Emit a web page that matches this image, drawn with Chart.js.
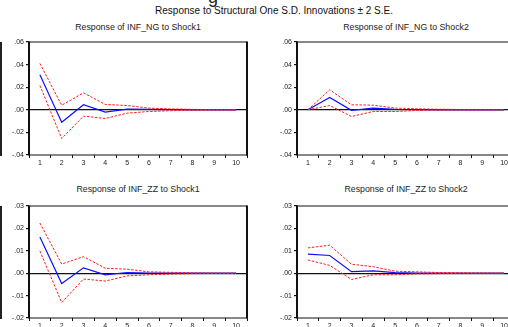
<!DOCTYPE html>
<html>
<head>
<meta charset="utf-8">
<script src="https://cdn.jsdelivr.net/npm/chart.js@4.4.0/dist/chart.umd.min.js"></script>
<style>
  body { margin:0; width:508px; height:327px; overflow:hidden; background:#fff; position:relative; font-family:"Liberation Sans", Arial, sans-serif; }
  .box { position:absolute; }
  .cap { position:absolute; width:218px; text-align:center; font-size:8.8px; color:#222; white-space:nowrap; }
  #mainTitle { position:absolute; left:0; width:548px; top:5px; text-align:center; font-size:10px; color:#111; white-space:nowrap; }
  #cutG { position:absolute; left:208px; top:-13px; font-size:18px; color:#222; }
  .edge { position:absolute; left:0; width:1.5px; background:#222; }
</style>
</head>
<body>
<div id="cutG">g</div>
<div id="mainTitle">Response to Structural One S.D. Innovations ± 2 S.E.</div>
<div class="edge" style="top:42px;height:114px"></div>
<div class="edge" style="top:206px;height:113px"></div>

<div class="cap" style="left:29px;top:22px">Response of INF_NG to Shock1</div>
<div class="cap" style="left:297px;top:22px">Response of INF_NG to Shock2</div>
<div class="cap" style="left:29px;top:184px">Response of INF_ZZ to Shock1</div>
<div class="cap" style="left:297px;top:184px">Response of INF_ZZ to Shock2</div>

<div class="box" style="left:0px;top:35px"><canvas id="c1" width="250" height="135"></canvas></div>
<div class="box" style="left:268px;top:35px"><canvas id="c2" width="250" height="135"></canvas></div>
<div class="box" style="left:0px;top:199px"><canvas id="c3" width="250" height="134"></canvas></div>
<div class="box" style="left:268px;top:199px"><canvas id="c4" width="250" height="134"></canvas></div>

<script>
// periods on the x axis
const periods = ['1','2','3','4','5','6','7','8','9','10'];

// y tick labels
const ticksNG = [-0.04, -0.02, 0.00, 0.02, 0.04, 0.06];
const ticksZZ = [-0.02, -0.01, 0.00, 0.01, 0.02, 0.03];

// INF_NG to Shock1
const ngS1 =    [0.0310, -0.0110, 0.0045, -0.0020, 0.0006, 0.0003, 0.0001, 0.0000, 0.0000, 0.0000];
const ngS1Hi =  [0.0410, 0.0040, 0.0150, 0.0047, 0.0038, 0.0015, 0.0008, 0.0004, 0.0002, 0.0001];
const ngS1Lo =  [0.0215, -0.0254, -0.0056, -0.0077, -0.0030, -0.0015, -0.0008, -0.0004, -0.0002, -0.0001];

// INF_NG to Shock2
const ngS2 =    [0.0000, 0.0110, -0.0005, 0.0015, 0.0003, 0.0001, 0.0000, 0.0000, 0.0000, 0.0000];
const ngS2Hi =  [0.0000, 0.0177, 0.0044, 0.0041, 0.0015, 0.0009, 0.0005, 0.0003, 0.0001, 0.0001];
const ngS2Lo =  [0.0000, 0.0038, -0.0059, -0.0015, -0.0015, -0.0006, -0.0003, -0.0002, -0.0001, -0.0001];

// INF_ZZ to Shock1
const zzS1 =    [0.0162, -0.0046, 0.0024, -0.0007, 0.0003, 0.0001, 0.0000, 0.0000, 0.0000, 0.0000];
const zzS1Hi =  [0.0224, 0.0041, 0.0074, 0.0022, 0.0018, 0.0006, 0.0004, 0.0002, 0.0001, 0.0000];
const zzS1Lo =  [0.0099, -0.0131, -0.0026, -0.0035, -0.0012, -0.0007, -0.0004, -0.0002, -0.0001, 0.0000];

// INF_ZZ to Shock2
const zzS2 =    [0.0085, 0.0079, 0.0007, 0.0010, 0.0003, 0.0001, 0.0000, 0.0000, 0.0000, 0.0000];
const zzS2Hi =  [0.0113, 0.0125, 0.0040, 0.0029, 0.0009, 0.0006, 0.0003, 0.0002, 0.0001, 0.0000];
const zzS2Lo =  [0.0059, 0.0035, -0.0028, -0.0007, -0.0007, -0.0003, -0.0002, -0.0001, -0.0001, 0.0000];

const fontFam = '"Liberation Sans", Arial, sans-serif';

function fmtTick(v) {
  if (Math.abs(v) < 1e-9) return '.00';
  let s = Math.abs(v).toFixed(2).replace(/^0/, '');
  return (v < 0 ? '-' : '') + s;
}

// frame round the plot area, sides a bit heavier than top/bottom
const framePlugin = {
  id: 'frame',
  afterDraw(chart) {
    const a = chart.chartArea, ctx = chart.ctx;
    ctx.save();
    ctx.strokeStyle = '#111';
    ctx.lineWidth = 1.2;
    ctx.beginPath();
    ctx.moveTo(a.left, a.top); ctx.lineTo(a.right, a.top);
    ctx.moveTo(a.left, a.bottom); ctx.lineTo(a.right, a.bottom);
    ctx.stroke();
    ctx.lineWidth = 2;
    ctx.beginPath();
    ctx.moveTo(a.left, a.top - 0.6); ctx.lineTo(a.left, a.bottom + 0.6);
    ctx.moveTo(a.right, a.top - 0.6); ctx.lineTo(a.right, a.bottom + 0.6);
    ctx.stroke();
    ctx.restore();
  }
};

function makeChart(id, mid, hi, lo, yTicks) {
  const step = yTicks[1] - yTicks[0];
  new Chart(document.getElementById(id), {
    type: 'line',
    data: {
      labels: periods,
      datasets: [
        { data: hi, borderColor: '#ff1a1a', borderWidth: 1, borderDash: [2.5, 1.5] },
        { data: lo, borderColor: '#ff1a1a', borderWidth: 1, borderDash: [2.5, 1.5] },
        { data: mid, borderColor: '#1010ff', borderWidth: 1.2 }
      ]
    },
    options: {
      responsive: false,
      animation: false,
      devicePixelRatio: 1,
      layout: { padding: { top: 7, right: 3, left: 0, bottom: 0 } },
      elements: { point: { radius: 0 }, line: { tension: 0 } },
      plugins: { legend: { display: false }, tooltip: { enabled: false } },
      scales: {
        x: {
          offset: true,
          grid: { offset: true, color: 'transparent', tickColor: '#111', tickLength: 3, drawOnChartArea: false },
          border: { display: false },
          ticks: { color: '#222', font: { size: 7, family: fontFam }, padding: 1, maxRotation: 0, autoSkip: false },
          afterFit(s) { s.height = 15; }
        },
        y: {
          min: yTicks[0],
          max: yTicks[yTicks.length - 1],
          grid: {
            color: c => (Math.abs(c.tick.value) < 1e-9 ? '#111' : 'transparent'),
            lineWidth: 1.2,
            tickColor: '#111',
            tickLength: 3
          },
          border: { display: false },
          ticks: { stepSize: step, color: '#222', font: { size: 7, family: fontFam }, padding: 2, callback: fmtTick },
          afterFit(s) { s.width = 29; }
        }
      }
    },
    plugins: [framePlugin]
  });
}

makeChart('c1', ngS1, ngS1Hi, ngS1Lo, ticksNG);
makeChart('c2', ngS2, ngS2Hi, ngS2Lo, ticksNG);
makeChart('c3', zzS1, zzS1Hi, zzS1Lo, ticksZZ);
makeChart('c4', zzS2, zzS2Hi, zzS2Lo, ticksZZ);
</script>
</body>
</html>
